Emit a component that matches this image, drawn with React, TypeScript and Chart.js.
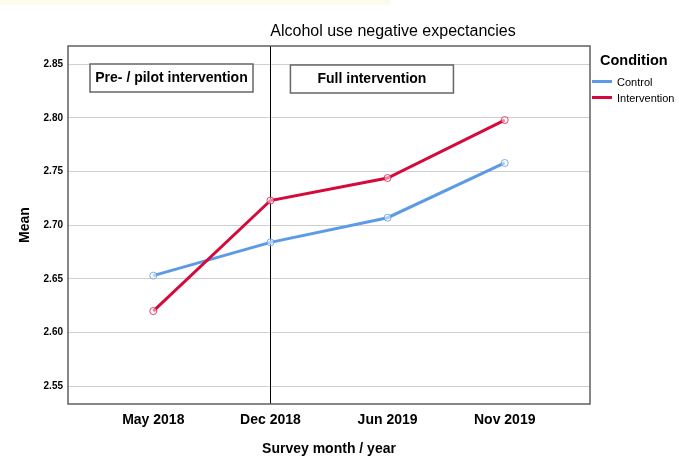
import React, { useEffect, useRef } from 'react';
import { Chart, registerables } from 'chart.js';

Chart.register(...registerables);

const categories = ['May 2018', 'Dec 2018', 'Jun 2019', 'Nov 2019'];
const controlMeans = [2.653, 2.684, 2.707, 2.758];
const interventionMeans = [2.62, 2.723, 2.744, 2.798];
const yTicks = [2.55, 2.6, 2.65, 2.7, 2.75, 2.8, 2.85];
const seriesNames = ['Control', 'Intervention'];
const seriesColors = ['#5B9BE6', '#D40A3C'];
const phaseLabels = ['Pre- / pilot intervention', 'Full intervention'];
const phaseBoundaryIndex = 1;
const chartTitle = 'Alcohol use negative expectancies';
const legendTitle = 'Condition';

const FONT = '"Liberation Sans", Arial, sans-serif';

function drawBox(ctx: CanvasRenderingContext2D, x: number, y: number, w: number, h: number, text: string) {
  ctx.save();
  ctx.fillStyle = '#ffffff';
  ctx.fillRect(x, y, w, h);
  ctx.strokeStyle = '#666666';
  ctx.lineWidth = 1.5;
  ctx.strokeRect(x, y, w, h);
  ctx.fillStyle = '#000000';
  ctx.font = `bold 14px ${FONT}`;
  ctx.textAlign = 'center';
  ctx.textBaseline = 'middle';
  ctx.fillText(text, x + w / 2, y + h / 2 + 0.5);
  ctx.restore();
}

const decorPlugin = {
  id: 'decor',
  beforeDraw(chart: any) {
    const ctx = chart.ctx as CanvasRenderingContext2D;
    ctx.save();
    ctx.fillStyle = '#ffffff';
    ctx.fillRect(0, 0, chart.width, chart.height);
    ctx.fillStyle = '#fdfaee';
    ctx.fillRect(0, 0, 390, 5);
    ctx.restore();
  },
  beforeDatasetsDraw(chart: any) {
    const ctx = chart.ctx as CanvasRenderingContext2D;
    const a = chart.chartArea;
    const x = chart.scales.x.getPixelForValue(phaseBoundaryIndex);
    ctx.save();
    ctx.strokeStyle = '#000000';
    ctx.lineWidth = 1;
    ctx.beginPath();
    ctx.moveTo(Math.round(x) + 0.5, a.top);
    ctx.lineTo(Math.round(x) + 0.5, a.bottom);
    ctx.stroke();
    ctx.restore();
    drawBox(ctx, a.left + 22, a.top + 18, 163, 28, phaseLabels[0]);
    drawBox(ctx, x + 20, a.top + 19, 163, 28, phaseLabels[1]);
  },
  afterDraw(chart: any) {
    const ctx = chart.ctx as CanvasRenderingContext2D;
    const a = chart.chartArea;
    ctx.save();
    // frame
    ctx.strokeStyle = '#5f5f5f';
    ctx.lineWidth = 1.5;
    ctx.strokeRect(a.left, a.top, a.right - a.left, a.bottom - a.top);
    // title
    ctx.fillStyle = '#000000';
    ctx.font = `16px ${FONT}`;
    ctx.textAlign = 'center';
    ctx.textBaseline = 'middle';
    ctx.fillText(chartTitle, 393, 32);
    // legend
    ctx.textAlign = 'left';
    ctx.font = `bold 14.5px ${FONT}`;
    ctx.fillText(legendTitle, a.right + 10, 61);
    ctx.font = `11px ${FONT}`;
    seriesNames.forEach((name, i) => {
      const y = 81.5 + i * 16;
      ctx.strokeStyle = seriesColors[i];
      ctx.lineWidth = 3;
      ctx.beginPath();
      ctx.moveTo(a.right + 2, y);
      ctx.lineTo(a.right + 22, y);
      ctx.stroke();
      ctx.fillStyle = '#000000';
      ctx.fillText(name, a.right + 27, y + 1);
    });
    ctx.restore();
  },
};

export default function App() {
  const canvasRef = useRef<HTMLCanvasElement | null>(null);

  useEffect(() => {
    if (!canvasRef.current) return;
    const mk = (vals: number[]) => vals.map((y, i) => ({ x: i, y }));
    const chart = new Chart(canvasRef.current, {
      type: 'line',
      data: {
        datasets: [
          {
            label: seriesNames[1],
            data: mk(interventionMeans),
            borderColor: seriesColors[1],
            backgroundColor: seriesColors[1],
            borderWidth: 3,
            pointRadius: 3.5,
            pointBorderWidth: 1,
            pointBackgroundColor: 'rgba(255,255,255,0.5)',
            pointBorderColor: 'rgba(212,10,60,0.75)',
            tension: 0,
            order: 0,
          },
          {
            label: seriesNames[0],
            data: mk(controlMeans),
            borderColor: seriesColors[0],
            backgroundColor: seriesColors[0],
            borderWidth: 3,
            pointRadius: 3.5,
            pointBorderWidth: 1,
            pointBackgroundColor: 'rgba(255,255,255,0.5)',
            pointBorderColor: 'rgba(91,155,230,0.8)',
            tension: 0,
            order: 1,
          },
        ],
      },
      options: {
        animation: false,
        responsive: true,
        maintainAspectRatio: false,
        layout: { padding: { left: 0, right: 89, top: 46, bottom: 0 } },
        plugins: {
          legend: { display: false },
          title: { display: false },
          tooltip: { enabled: false },
        },
        scales: {
          x: {
            type: 'linear',
            min: -0.728,
            max: 3.728,
            grid: { display: false, drawTicks: false },
            border: { display: false },
            afterBuildTicks: (s: any) => {
              s.ticks = categories.map((_, i) => ({ value: i }));
            },
            ticks: {
              callback: (v: any) => categories[Math.round(Number(v))],
              font: { family: FONT, size: 14, weight: 'bold' },
              color: '#000000',
              padding: 8,
              maxRotation: 0,
              autoSkip: false,
            },
            title: {
              display: true,
              text: 'Survey month / year',
              font: { family: FONT, size: 14, weight: 'bold' },
              color: '#000000',
              padding: { top: 0, bottom: 1 },
            },
            afterFit: (s: any) => {
              s.height = 55;
            },
          },
          y: {
            type: 'linear',
            min: 2.5334,
            max: 2.867,
            afterBuildTicks: (s: any) => {
              s.ticks = yTicks.map((v) => ({ value: v }));
            },
            grid: { color: '#cfcfcf', lineWidth: 1, drawTicks: false },
            border: { display: false },
            ticks: {
              callback: (v: any) => Number(v).toFixed(2),
              font: { family: FONT, size: 10, weight: 'bold' },
              color: '#000000',
              padding: 5,
            },
            title: {
              display: true,
              text: 'Mean',
              font: { family: FONT, size: 14, weight: 'bold' },
              color: '#000000',
              padding: { top: 17, bottom: 0 },
            },
            afterFit: (s: any) => {
              s.width = 68;
            },
          },
        },
      },
      plugins: [decorPlugin],
    } as any);
    return () => chart.destroy();
  }, []);

  return (
    <div style={{ position: 'fixed', left: 0, top: 0, width: 679, height: 459, background: '#ffffff' }}>
      <canvas ref={canvasRef} />
    </div>
  );
}
